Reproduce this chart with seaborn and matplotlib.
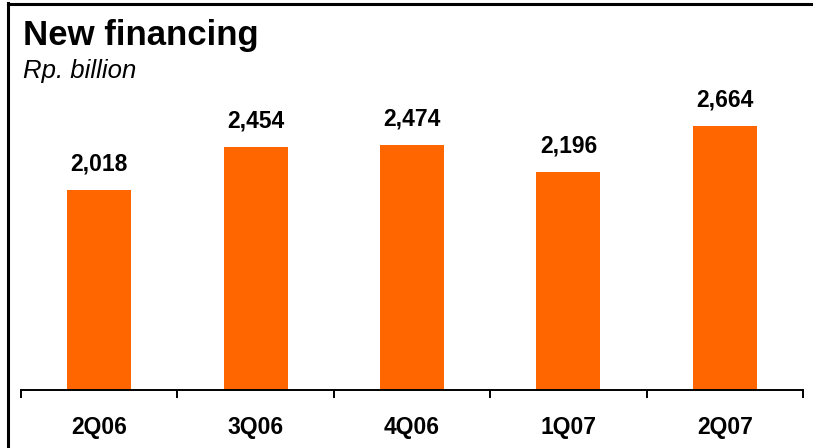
import matplotlib
matplotlib.use("Agg")
import matplotlib.pyplot as plt
from matplotlib.lines import Line2D
from matplotlib.ticker import FixedLocator
import seaborn as sns
import pandas as pd

quarters = ["2Q06", "3Q06", "4Q06", "1Q07", "2Q07"]
financing = [2018, 2454, 2474, 2196, 2664]
value_labels = ["2,018", "2,454", "2,474", "2,196", "2,664"]

sns.set_theme(style="white")
plt.rcParams["font.family"] = ["Liberation Sans", "DejaVu Sans"]

W, H = 813, 448
fig = plt.figure(figsize=(W / 100, H / 100), dpi=100)
fig.patch.set_facecolor("white")

ax = fig.add_axes([21 / W, 1 - 390 / H, (803 - 21) / W, (390 - 92.7) / H])
df = pd.DataFrame({"quarter": quarters, "value": financing})
sns.barplot(data=df, x="quarter", y="value", color="#FF6600", saturation=1,
            width=0.41, ax=ax)
for p in ax.patches:
    p.set_edgecolor("none")

ax.set_ylim(0, 3000)
ax.set_xlim(-0.5, len(quarters) - 0.5)
ax.set_xlabel("")
ax.set_ylabel("")
ax.set_yticks([])
for side in ("left", "right", "top"):
    ax.spines[side].set_visible(False)
ax.spines["bottom"].set_color("black")
ax.spines["bottom"].set_linewidth(1.4)

ax.xaxis.set_minor_locator(FixedLocator([i - 0.5 for i in range(len(quarters) + 1)]))
ax.tick_params(axis="x", which="major", length=0, pad=19, labelsize=16.5)
ax.tick_params(axis="x", which="minor", length=6, width=1.4, color="black",
               direction="out", bottom=True)
for lbl in ax.get_xticklabels():
    lbl.set_fontweight("bold")
    lbl.set_color("black")

for i, (v, txt) in enumerate(zip(financing, value_labels)):
    ax.annotate(txt, (i, v), xytext=(0, 10.5), textcoords="offset points",
                ha="center", va="bottom", fontsize=16.5, fontweight="bold",
                color="black")

fig.text(23 / W, 1 - 45 / H, "New financing", fontsize=25, fontweight="bold",
         color="black", ha="left", va="baseline")
fig.text(23 / W, 1 - 78 / H, "Rp. billion", fontsize=18.5, fontstyle="italic",
         color="black", ha="left", va="baseline")

# frame on the top and left edges
fig.add_artist(Line2D([8 / W, 8 / W], [0, 1 - 3 / H], transform=fig.transFigure,
                      color="black", linewidth=2.2, solid_capstyle="projecting"))
fig.add_artist(Line2D([8 / W, 1], [1 - 4 / H, 1 - 4 / H], transform=fig.transFigure,
                      color="black", linewidth=2.2, solid_capstyle="projecting"))

fig.savefig("out.png", dpi=100, facecolor="white")
